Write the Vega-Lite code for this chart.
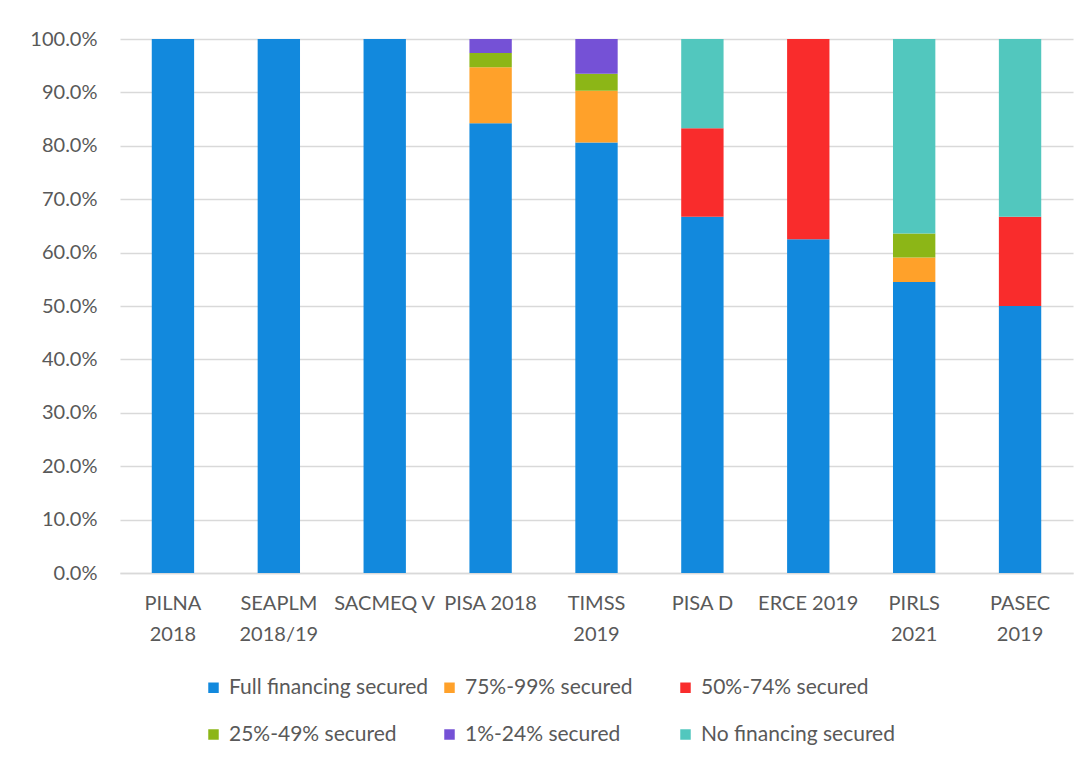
{
  "$schema": "https://vega.github.io/schema/vega-lite/v6.json",
  "width": 953,
  "height": 534,
  "autosize": {"type": "none"},
  "padding": {"left": 120, "top": 39, "right": 14, "bottom": 188},
  "background": "white",
  "config": {
    "font": "Lato",
    "view": {"stroke": null}
  },
  "data": {
    "values": [
      {"assessment": "PILNA 2018", "status": "Full financing secured", "rank": 1, "share": 1.0},
      {"assessment": "SEAPLM 2018/19", "status": "Full financing secured", "rank": 1, "share": 1.0},
      {"assessment": "SACMEQ V", "status": "Full financing secured", "rank": 1, "share": 1.0},
      {"assessment": "PISA 2018", "status": "Full financing secured", "rank": 1, "share": 0.842},
      {"assessment": "PISA 2018", "status": "75%-99% secured", "rank": 2, "share": 0.105},
      {"assessment": "PISA 2018", "status": "25%-49% secured", "rank": 4, "share": 0.027},
      {"assessment": "PISA 2018", "status": "1%-24% secured", "rank": 5, "share": 0.026},
      {"assessment": "TIMSS 2019", "status": "Full financing secured", "rank": 1, "share": 0.806},
      {"assessment": "TIMSS 2019", "status": "75%-99% secured", "rank": 2, "share": 0.097},
      {"assessment": "TIMSS 2019", "status": "25%-49% secured", "rank": 4, "share": 0.032},
      {"assessment": "TIMSS 2019", "status": "1%-24% secured", "rank": 5, "share": 0.065},
      {"assessment": "PISA D", "status": "Full financing secured", "rank": 1, "share": 0.667},
      {"assessment": "PISA D", "status": "50%-74% secured", "rank": 3, "share": 0.166},
      {"assessment": "PISA D", "status": "No financing secured", "rank": 6, "share": 0.167},
      {"assessment": "ERCE 2019", "status": "Full financing secured", "rank": 1, "share": 0.625},
      {"assessment": "ERCE 2019", "status": "50%-74% secured", "rank": 3, "share": 0.375},
      {"assessment": "PIRLS 2021", "status": "Full financing secured", "rank": 1, "share": 0.545},
      {"assessment": "PIRLS 2021", "status": "75%-99% secured", "rank": 2, "share": 0.046},
      {"assessment": "PIRLS 2021", "status": "25%-49% secured", "rank": 4, "share": 0.045},
      {"assessment": "PIRLS 2021", "status": "No financing secured", "rank": 6, "share": 0.364},
      {"assessment": "PASEC 2019", "status": "Full financing secured", "rank": 1, "share": 0.5},
      {"assessment": "PASEC 2019", "status": "50%-74% secured", "rank": 3, "share": 0.167},
      {"assessment": "PASEC 2019", "status": "No financing secured", "rank": 6, "share": 0.333}
    ]
  },
  "mark": {"type": "bar"},
  "encoding": {
    "x": {
      "field": "assessment",
      "type": "nominal",
      "sort": ["PILNA 2018", "SEAPLM 2018/19", "SACMEQ V", "PISA 2018", "TIMSS 2019", "PISA D", "ERCE 2019", "PIRLS 2021", "PASEC 2019"],
      "scale": {"paddingInner": 0.6, "paddingOuter": 0.3},
      "axis": {
        "title": null,
        "labelAngle": 0,
        "labelFontSize": 20,
        "labelColor": "#595959",
        "labelPadding": 20,
        "labelLineHeight": 31,
        "labelExpr": "(datum.value == 'SACMEQ V' || datum.value == 'PISA 2018' || datum.value == 'PISA D' || datum.value == 'ERCE 2019') ? datum.value : split(datum.value, ' ')",
        "ticks": false,
        "domainColor": "#D9D9D9",
        "domainWidth": 1.5,
        "grid": false
      }
    },
    "y": {
      "field": "share",
      "type": "quantitative",
      "stack": "zero",
      "scale": {"domain": [0, 1], "nice": false},
      "axis": {
        "title": null,
        "format": ".1%",
        "values": [0, 0.1, 0.2, 0.3, 0.4, 0.5, 0.6, 0.7, 0.8, 0.9, 1.0],
        "labelFontSize": 20,
        "labelColor": "#595959",
        "labelPadding": 23,
        "ticks": false,
        "domain": false,
        "gridColor": "#D9D9D9",
        "gridWidth": 1.5
      }
    },
    "order": {"field": "rank", "type": "quantitative", "sort": "ascending"},
    "color": {
      "field": "status",
      "type": "nominal",
      "scale": {
        "domain": ["Full financing secured", "75%-99% secured", "50%-74% secured", "25%-49% secured", "1%-24% secured", "No financing secured"],
        "range": ["#1289DD", "#FFA12A", "#F92C2C", "#8CB617", "#7551D6", "#52C7BE"]
      },
      "legend": {
        "title": null,
        "orient": "none",
        "legendX": 83,
        "legendY": 638,
        "direction": "horizontal",
        "columns": 3,
        "gridAlign": "all",
        "symbolType": "square",
        "symbolSize": 110,
        "symbolStrokeWidth": 0,
        "labelFontSize": 21,
        "labelColor": "#595959",
        "labelOffset": 5,
        "labelLimit": 300,
        "columnPadding": 10,
        "rowPadding": 25
      }
    }
  }
}
